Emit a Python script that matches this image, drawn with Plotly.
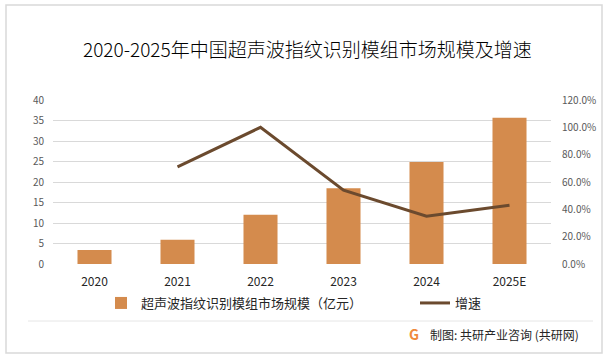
import plotly.graph_objects as go

years = ["2020", "2021", "2022", "2023", "2024", "2025E"]
market_size = [3.4, 5.9, 12.0, 18.5, 24.9, 35.7]
growth_years = ["2021", "2022", "2023", "2024", "2025E"]
growth_rate = [0.71, 1.00, 0.54, 0.35, 0.43]

bar_name = "超声波指纹识别模组市场规模（亿元）"
line_name = "增速"
title_text = "2020-2025年中国超声波指纹识别模组市场规模及增速"
source_text = "制图: 共研产业咨询 (共研网)"
left_ticks = [0, 5, 10, 15, 20, 25, 30, 35, 40]
right_ticks = [0, 0.2, 0.4, 0.6, 0.8, 1.0, 1.2]

FONT = "Noto Sans CJK SC"
W, H = 613, 357
L, R, T, B = 53, 62, 100, 93
PW, PH = W - L - R, H - T - B


def px_x(x):
    return (x - L) / PW


def px_y(y):
    return 1 - (y - T) / PH


fig = go.Figure()
fig.add_trace(go.Bar(x=years, y=market_size, name=bar_name,
                     marker=dict(color="#D48B4D", line=dict(width=0)),
                     yaxis="y", legend="legend"))
fig.add_trace(go.Scatter(x=growth_years, y=growth_rate, name=line_name,
                         mode="lines", line=dict(color="#6B4A2E", width=3),
                         yaxis="y2", legend="legend2"))

legend_font = dict(size=13, color="#262626", family=FONT)
fig.update_layout(
    width=W, height=H,
    margin=dict(l=L, r=R, t=T, b=B, pad=0, autoexpand=False),
    paper_bgcolor="white", plot_bgcolor="white",
    font=dict(family=FONT, color="#595959"),
    bargap=0.59,
    showlegend=True,
    legend=dict(orientation="h", x=px_x(101), xanchor="left",
                y=px_y(303), yanchor="middle", font=legend_font,
                bgcolor="rgba(0,0,0,0)"),
    legend2=dict(orientation="h", x=px_x(415), xanchor="left",
                 y=px_y(303), yanchor="middle", font=legend_font,
                 bgcolor="rgba(0,0,0,0)"),
    xaxis=dict(type="category", categoryorder="array", categoryarray=years,
               showgrid=False, zeroline=False, showline=False,
               ticks="", tickfont=dict(size=12, color="#262626", family=FONT),
               ticklabelstandoff=9, fixedrange=True),
    yaxis=dict(range=[0, 40], tickvals=left_ticks, showgrid=True,
               gridcolor="#D9D9D9", gridwidth=1, zeroline=False,
               showline=False, ticks="",
               tickfont=dict(size=10, color="#595959", family=FONT),
               ticklabelstandoff=8),
    yaxis2=dict(range=[0, 1.2], tickvals=right_ticks, tickformat=".1%",
                overlaying="y", side="right", showgrid=False, zeroline=False,
                showline=False, ticks="",
                tickfont=dict(size=10, color="#595959", family=FONT),
                ticklabelstandoff=10),
)

# title
fig.add_annotation(text=title_text, xref="paper", yref="paper",
                   x=px_x(307), xanchor="center", y=px_y(49), yanchor="middle",
                   showarrow=False,
                   font=dict(size=19, color="#000000", family=FONT, weight=300))

# frame border and footer separator
fig.add_shape(type="rect", xref="paper", yref="paper",
              x0=px_x(6), x1=px_x(602), y0=px_y(353), y1=px_y(5),
              line=dict(color="#D9D9D9", width=1.5), layer="below")
fig.add_shape(type="line", xref="paper", yref="paper",
              x0=px_x(28), x1=px_x(593), y0=px_y(321), y1=px_y(321),
              line=dict(color="#E6E6E6", width=1), layer="below")

# source
fig.add_annotation(text=source_text, xref="paper", yref="paper",
                   x=px_x(428), xanchor="left", y=px_y(334), yanchor="middle",
                   showarrow=False,
                   font=dict(size=12, color="#262626", family=FONT))
fig.add_annotation(text="<b>G</b>", xref="paper", yref="paper",
                   x=px_x(414), xanchor="center", y=px_y(334), yanchor="middle",
                   showarrow=False,
                   font=dict(size=14, color="#F08A3C", family=FONT))

# faint watermarks
wm = [(150, 95), (390, 80), (190, 205), (430, 200), (500, 130)]
for (px, py) in wm:
    fig.add_annotation(text="<b>共研产业咨询</b><br>w w w . g o n y n . c o m",
                       xref="paper", yref="paper",
                       x=px_x(px), y=px_y(py),
                       xanchor="center", yanchor="middle", showarrow=False,
                       textangle=-12,
                       font=dict(size=18, color="rgba(0,0,0,0.025)", family=FONT))

fig.write_html("out.html",
               config={"displayModeBar": False},
               post_script="document.body.style.margin='0';"
                           "document.body.style.padding='0';")
